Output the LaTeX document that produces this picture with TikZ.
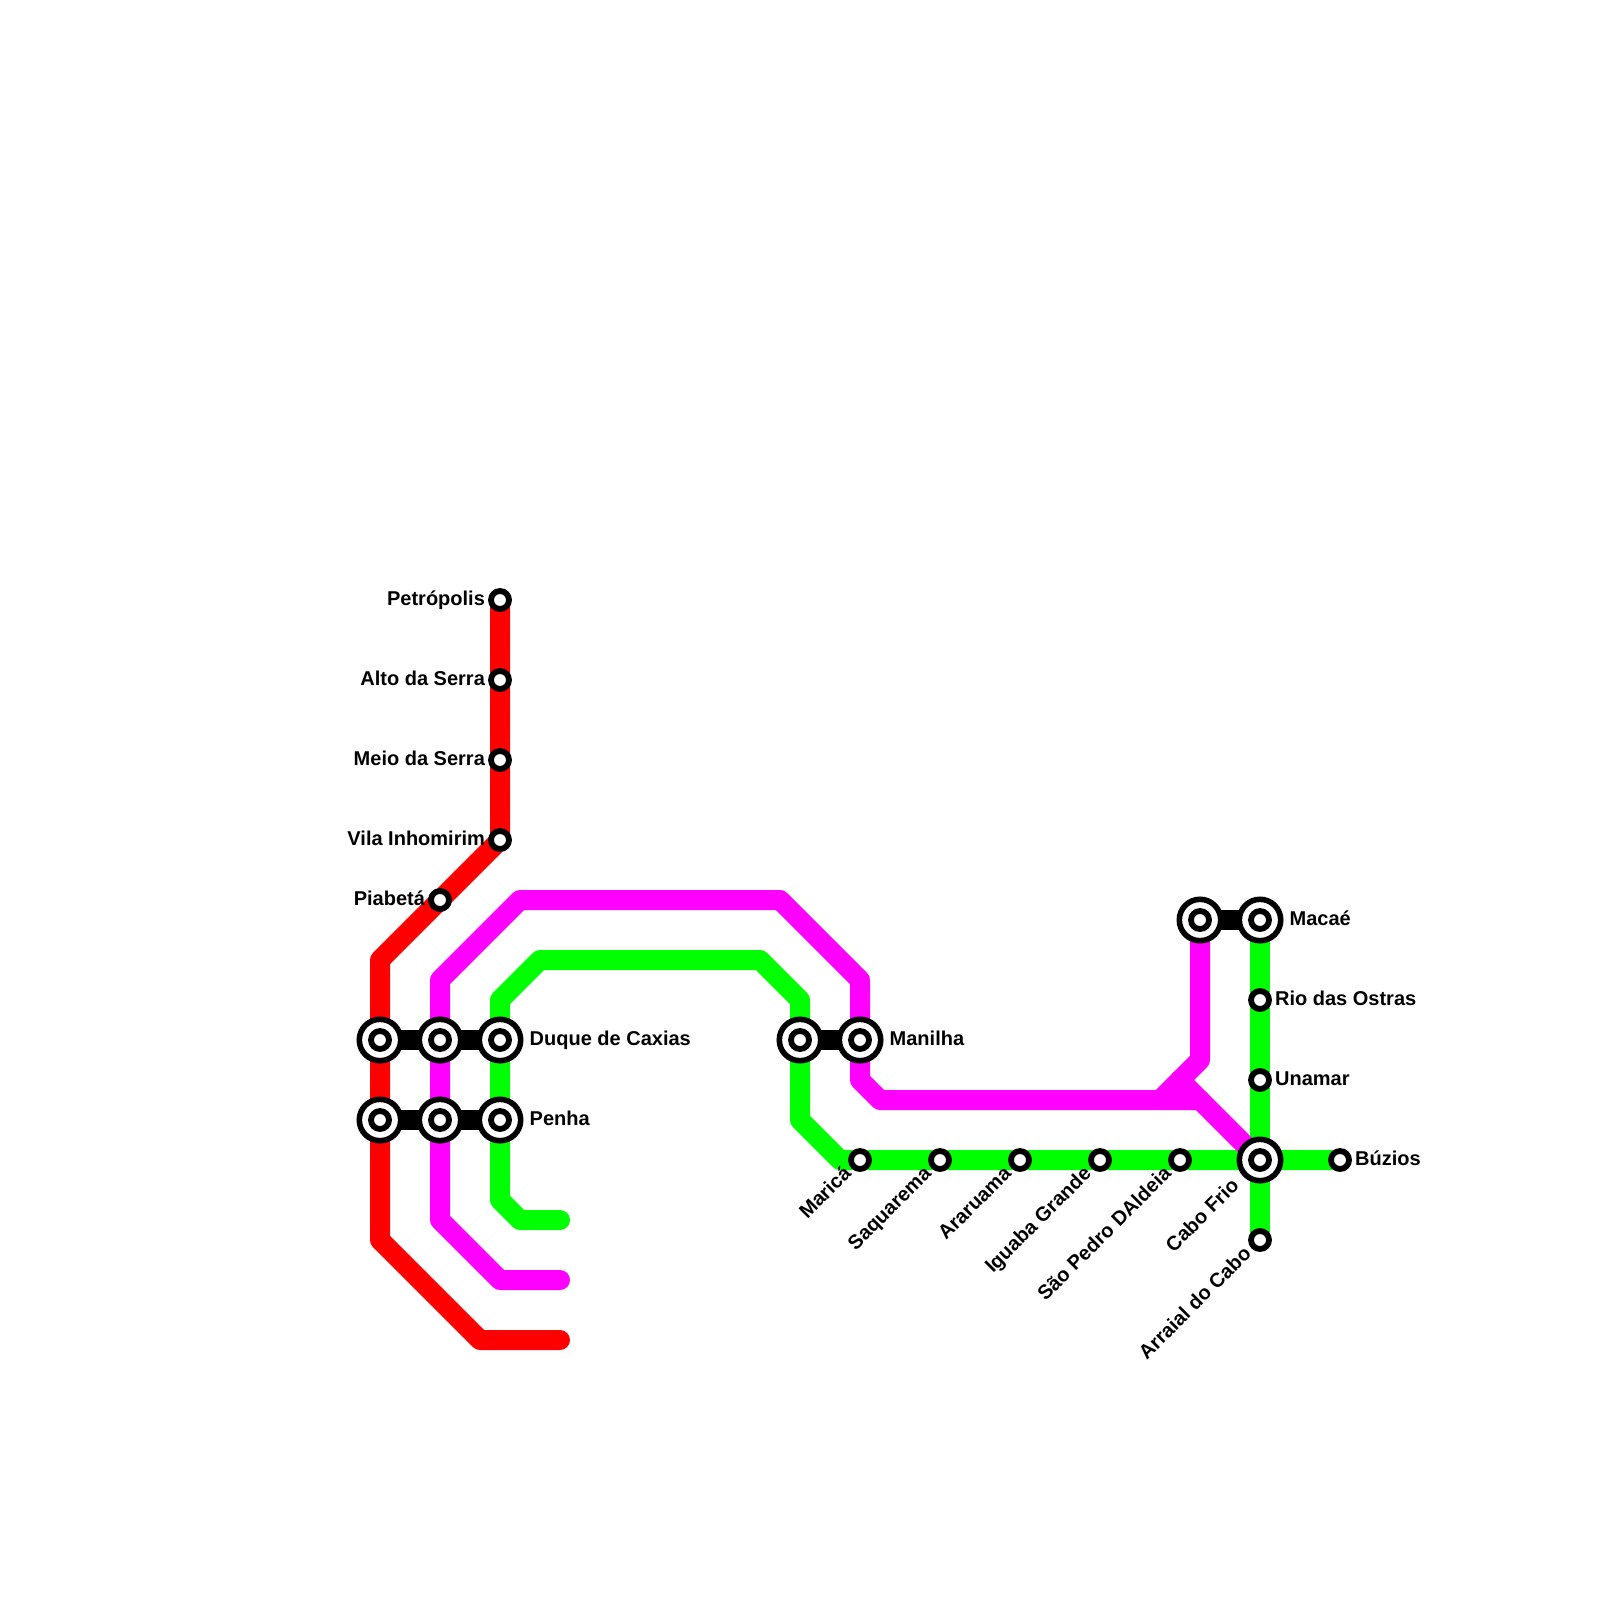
\documentclass[tikz,border=0pt]{standalone}
\usepackage{fontspec}
\setmainfont{Liberation Sans}
\usetikzlibrary{positioning, backgrounds}
\definecolor{metroRed}{HTML}{FF0000}
\definecolor{metroMagenta}{HTML}{FF00FF}
\definecolor{metroGreen}{HTML}{00FF00}
\tikzset{
  metroline/.style={line width=20pt, line cap=round, line join=round},
  transfer/.style={line width=20pt, black},
  stationdot/.style={circle, draw=black, line width=5.8pt, fill=white,
    minimum size=18pt, inner sep=0pt},
  hubring/.style={circle, draw=black, line width=5.6pt, fill=white,
    minimum size=41.4pt, inner sep=0pt,
    path picture={\draw[black, line width=5.8pt] (path picture bounding box.center) circle (9pt);}},
  stationlabel/.style={font=\bfseries\fontsize{20}{20}\selectfont, text=black,
    inner sep=0pt, text height=14.5pt, text depth=4.5pt},
  slanted/.style={stationlabel, rotate=45, anchor=east, inner xsep=4pt}
}
\begin{document}
\begin{tikzpicture}[x=1pt, y=-1pt]
        \useasboundingbox (0,0) rectangle (1600,1600);

        \node[stationdot] (petropolis) at (500,600) {};
        \node[stationdot] (altoserra) at (500,680) {};
        \node[stationdot] (meioserra) at (500,760) {};
        \node[stationdot] (vila) at (500,840) {};
        \node[stationdot] (piabeta) at (440,900) {};
        \node[hubring] (duqueRed) at (380,1040) {};
        \node[hubring] (duqueMag) at (440,1040) {};
        \node[hubring] (duque) at (500,1040) {};
        \node[hubring] (penhaRed) at (380,1120) {};
        \node[hubring] (penhaMag) at (440,1120) {};
        \node[hubring] (penha) at (500,1120) {};
        \node[hubring] (manilhaGreen) at (800,1040) {};
        \node[hubring] (manilha) at (860,1040) {};
        \node[stationdot] (marica) at (860,1160) {};
        \node[stationdot] (saquarema) at (940,1160) {};
        \node[stationdot] (araruama) at (1020,1160) {};
        \node[stationdot] (iguaba) at (1100,1160) {};
        \node[stationdot] (saopedro) at (1180,1160) {};
        \node[hubring] (cabofrio) at (1260,1160) {};
        \node[stationdot] (buzios) at (1340,1160) {};
        \node[stationdot] (arraial) at (1260,1240) {};
        \node[stationdot] (unamar) at (1260,1080) {};
        \node[stationdot] (riostras) at (1260,1000) {};
        \node[hubring] (macae) at (1260,920) {};
        \node[hubring] (macaeMag) at (1200,920) {};

        \coordinate (redEnd) at (560,1340);
        \coordinate (magEnd) at (560,1280);
        \coordinate (greenEnd) at (560,1220);
        \coordinate (magFork) at (1180,1080);

        \node[stationlabel, left=3pt of petropolis] (lbPetropolis) {Petrópolis};
        \node[stationlabel, left=3pt of altoserra] (lbAltoserra) {Alto da Serra};
        \node[stationlabel, left=3pt of meioserra] (lbMeioserra) {Meio da Serra};
        \node[stationlabel, left=3pt of vila] (lbVila) {Vila Inhomirim};
        \node[stationlabel, left=3pt of piabeta] (lbPiabeta) {Piabetá};
        \node[stationlabel, right=6pt of duque] (lbDuque) {Duque de Caxias};
        \node[stationlabel, right=6pt of penha] (lbPenha) {Penha};
        \node[stationlabel, right=6pt of manilha] (lbManilha) {Manilha};
        \node[stationlabel, right=6pt of macae] (lbMacae) {Macaé};
        \node[stationlabel, right=3pt of riostras] (lbRiostras) {Rio das Ostras};
        \node[stationlabel, right=3pt of unamar] (lbUnamar) {Unamar};
        \node[stationlabel, right=3pt of buzios] (lbBuzios) {Búzios};
        \node[slanted] (lbMarica) at (marica.south west) {Maricá};
        \node[slanted] (lbSaquarema) at (saquarema.south west) {Saquarema};
        \node[slanted] (lbAraruama) at (araruama.south west) {Araruama};
        \node[slanted] (lbIguaba) at (iguaba.south west) {Iguaba Grande};
        \node[slanted] (lbSaopedro) at (saopedro.south west) {São Pedro DAldeia};
        \node[slanted] (lbCabofrio) at ([shift={(-4,4)}]cabofrio.south west) {Cabo Frio};
        \node[slanted] (lbArraial) at (arraial.south west) {Arraial do Cabo};

        \begin{scope}[on background layer]
        \draw[metroline, metroRed] (petropolis.center) -- (vila.center) -- (piabeta.center) -- (380,960)
          -- (380,1240) -- (480,1340) -- (redEnd);
        \draw[metroline, metroGreen] (greenEnd) -- (520,1220) -- (500,1200) -- (500,1000) -- (540,960)
          -- (760,960) -- (800,1000) -- (800,1120) -- (840,1160) -- (buzios.center);
        \draw[metroline, metroGreen] (macae.center) -- (arraial.center);
        \draw[metroline, metroMagenta] (magEnd) -- (500,1280) -- (440,1220) -- (440,980) -- (520,900)
          -- (780,900) -- (860,980) -- (860,1080) -- (880,1100) -- (1200,1100);
        \draw[metroline, metroMagenta] (1160,1100) -- (1200,1060) -- (macaeMag.center);
        \draw[metroline, metroMagenta] (magFork) -- (cabofrio.center);
        \draw[transfer] (duqueRed.center) -- (duque.center);
        \draw[transfer] (penhaRed.center) -- (penha.center);
        \draw[transfer] (manilhaGreen.center) -- (manilha.center);
        \draw[transfer] (macaeMag.center) -- (macae.center);
        \end{scope}
      \end{tikzpicture}
\end{document}
